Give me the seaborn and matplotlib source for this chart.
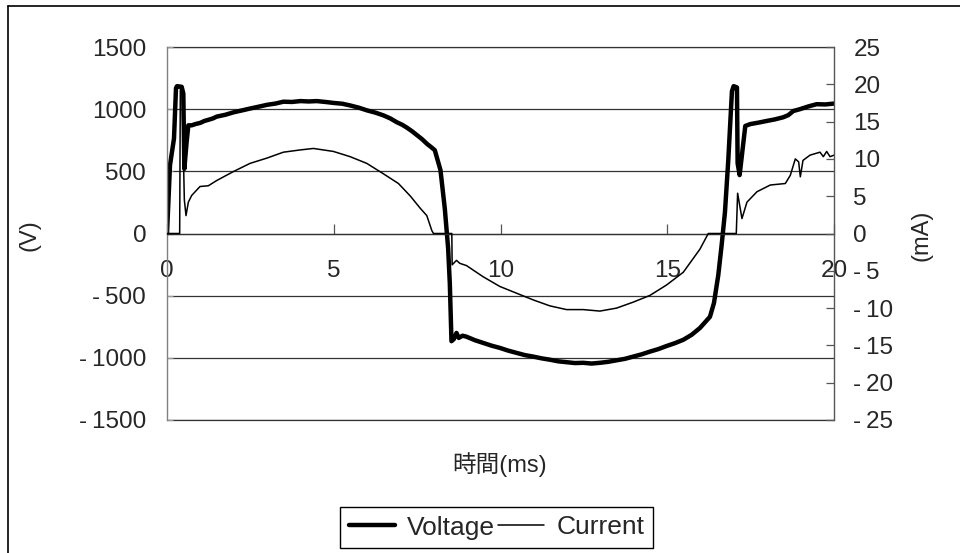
import matplotlib
matplotlib.use("Agg")
import matplotlib.pyplot as plt
from matplotlib.lines import Line2D
from matplotlib.ticker import FuncFormatter
import seaborn as sns
import pandas as pd

# Voltage waveform (time in ms, volts)
voltage_t = [0.00, 0.09, 0.21, 0.27, 0.30, 0.44, 0.49, 0.52, 0.59, 0.64, 0.74,
             0.85, 1.00, 1.12, 1.25, 1.37, 1.49, 1.75, 2.00, 2.25, 2.49, 2.75,
             3.00, 3.25, 3.49, 3.75, 4.00, 4.25, 4.49, 4.75, 5.00, 5.25, 5.49,
             5.75, 6.00, 6.25, 6.49, 6.70, 6.89, 7.05, 7.20, 7.35, 7.50, 7.65,
             7.80, 7.92, 8.03, 8.20, 8.33, 8.43, 8.48,
             8.53, 8.60, 8.68, 8.75, 8.86, 8.98, 9.23, 9.48, 9.73, 9.98, 10.23,
             10.48, 10.73, 10.98, 11.23, 11.48, 11.73, 11.98, 12.23, 12.48,
             12.73, 12.98, 13.23, 13.48, 13.73, 13.98, 14.23, 14.48, 14.73,
             14.98, 15.23, 15.48, 15.73, 15.98,
             16.28, 16.40, 16.53, 16.63, 16.73, 16.83, 16.94, 16.99, 17.09,
             17.11, 17.17, 17.34, 17.49, 17.74, 17.98, 18.23, 18.48, 18.63,
             18.78, 18.98, 19.23, 19.48, 19.74, 20.00]
voltage_v = [0, 550, 765, 1170, 1185, 1180, 1125, 520, 740, 870, 870,
             880, 890, 905, 915, 925, 940, 955, 975, 990, 1005, 1020,
             1035, 1045, 1060, 1058, 1065, 1062, 1065, 1058, 1050, 1044, 1030,
             1012, 990, 972, 950, 925, 895, 875, 850, 822, 790, 758,
             720, 695, 670, 510, 200, -120, -400,
             -866, -850, -800, -840, -822, -830, -858, -880, -902, -920, -942,
             -960, -978, -990, -1004, -1015, -1028, -1035, -1042, -1040,
             -1046, -1040, -1032, -1020, -1008, -990, -972, -950, -930,
             -905, -882, -855, -815, -760,
             -670, -560, -335, -95, 170, 590, 1145, 1185, 1175,
             565, 470, 865, 880, 892, 905, 918, 935, 952,
             985, 1000, 1022, 1040, 1038, 1045]

# Current waveform (time in ms, milliamps)
current_t = [0.00, 0.38, 0.40, 0.45, 0.52, 0.57, 0.64, 0.74, 0.99, 1.24, 1.49,
             1.99, 2.49, 2.99, 3.49, 3.99, 4.39, 4.99, 5.49, 5.99, 6.49, 6.94,
             7.30, 7.59, 7.79, 7.94, 7.99, 8.54, 8.55, 8.68, 8.78, 8.98, 9.48,
             9.98, 10.48, 10.98, 11.48, 11.98, 12.48, 12.98, 13.48, 13.98,
             14.48, 14.98, 15.48, 15.98, 16.23, 17.07, 17.11, 17.24, 17.39,
             17.69, 18.09, 18.54, 18.69, 18.84, 18.94, 18.99, 19.07, 19.28,
             19.58, 19.68, 19.78, 19.88, 20.00]
current_ma = [0, 0, 19.5, 19.2, 4.5, 2.4, 4.2, 5.1, 6.3, 6.4, 7.1,
              8.3, 9.4, 10.1, 10.9, 11.2, 11.4, 11.0, 10.3, 9.4, 8.0, 6.7,
              5.0, 3.4, 2.4, 0.4, 0, 0, -4.2, -3.6, -4.0, -4.3, -5.8,
              -7.1, -8.0, -8.9, -9.7, -10.2, -10.2, -10.4, -10.0, -9.2,
              -8.3, -6.9, -5.2, -2.1, 0, 0, 5.4, 2.0, 4.2,
              5.6, 6.5, 6.7, 7.8, 10.0, 9.6, 7.6, 9.8, 10.5,
              10.9, 10.3, 11.0, 10.3, 10.5]

x_ticks = [0, 5, 10, 15, 20]
v_ticks = [-1500, -1000, -500, 0, 500, 1000, 1500]
i_ticks = [-25, -20, -15, -10, -5, 0, 5, 10, 15, 20, 25]

sns.set_style("white")
plt.rcParams["font.family"] = ["Liberation Sans", "DejaVu Sans", "Noto Sans CJK JP"]
plt.rcParams["axes.unicode_minus"] = False


def signed(v, _pos=None):
    v = int(round(v))
    return f"-\u2009{abs(v)}" if v < 0 else f"{v}"


W, H = 960, 553
TICK_FS = 17.5
fig = plt.figure(figsize=(W / 100, H / 100), dpi=100)
ax = fig.add_axes([167 / W, 1 - 420 / H, (834 - 167) / W, (420 - 47) / H])

volt_df = pd.DataFrame({"t": voltage_t, "V": voltage_v})
curr_df = pd.DataFrame({"t": current_t, "I": current_ma})

sns.lineplot(data=volt_df, x="t", y="V", ax=ax, color="black", lw=3.2,
             estimator=None, sort=False, legend=False)
ax.set_xlim(0, 20)
ax.set_ylim(-1500, 1500)
ax.set_xticks(x_ticks)
ax.set_yticks(v_ticks)
ax.yaxis.set_major_formatter(FuncFormatter(signed))
ax.set_xlabel("")
ax.set_ylabel("")
ax.yaxis.grid(True, color="#333333", lw=0.9)
ax.xaxis.grid(False)
for yv in (v_ticks[0], v_ticks[-1]):
    ax.axhline(yv, color="#333333", lw=0.9, clip_on=False, zorder=0.5)

for s in ["top", "right"]:
    ax.spines[s].set_visible(False)
ax.spines["bottom"].set_position(("data", 0))
ax.spines["bottom"].set_color("#333333")
ax.spines["bottom"].set_linewidth(0.9)
ax.spines["left"].set_color("#808080")
ax.spines["left"].set_linewidth(1.0)
ax.tick_params(axis="x", direction="in", length=7, width=0.9, color="#555555",
               labelsize=TICK_FS, pad=19, bottom=True)
ax.tick_params(axis="y", direction="in", length=4, width=0.9, color="#999999",
               labelsize=TICK_FS, pad=15, left=True)

ax2 = ax.twinx()
sns.lineplot(data=curr_df, x="t", y="I", ax=ax2, color="black", lw=1.1,
             estimator=None, sort=False, legend=False)
ax2.set_ylim(-25, 25)
ax2.set_yticks(i_ticks)
ax2.yaxis.set_major_formatter(FuncFormatter(signed))
ax2.set_ylabel("")
ax2.grid(False)
for s in ["top", "left", "bottom"]:
    ax2.spines[s].set_visible(False)
ax2.spines["right"].set_color("#555555")
ax2.spines["right"].set_linewidth(1.0)
ax2.tick_params(axis="y", direction="in", length=6, width=0.9, color="#555555",
                labelsize=TICK_FS, pad=14, right=True)

fig.text(30 / W, 1 - 235 / H, "(V)", rotation=90, fontsize=17,
         ha="center", va="center")
fig.text(922 / W, 1 - 235 / H, "(mA)", rotation=90, fontsize=17,
         ha="center", va="center")
fig.text(500 / W, 1 - 465 / H, "時間(ms)", fontsize=17,
         ha="center", va="center")

handles = [Line2D([], [], color="black", lw=3.2),
           Line2D([], [], color="black", lw=1.1)]
leg = fig.legend(handles, ["Voltage", "Current"], loc="center",
                 bbox_to_anchor=(496.5 / W, 1 - 527.5 / H), ncol=2,
                 frameon=True, fancybox=False, edgecolor="black",
                 framealpha=1, fontsize=19, handlelength=1.75,
                 handletextpad=0.45, columnspacing=0.12, borderpad=0.32,
                 borderaxespad=0)
leg.get_frame().set_linewidth(1.0)

# outer chart frame
fig.add_artist(Line2D([8 / W, 1.0], [1 - 6 / H, 1 - 6 / H],
                      transform=fig.transFigure, color="black", lw=1.2))
fig.add_artist(Line2D([8 / W, 8 / W], [0.0, 1 - 6 / H],
                      transform=fig.transFigure, color="black", lw=1.2))

fig.savefig("out.png", dpi=100)
